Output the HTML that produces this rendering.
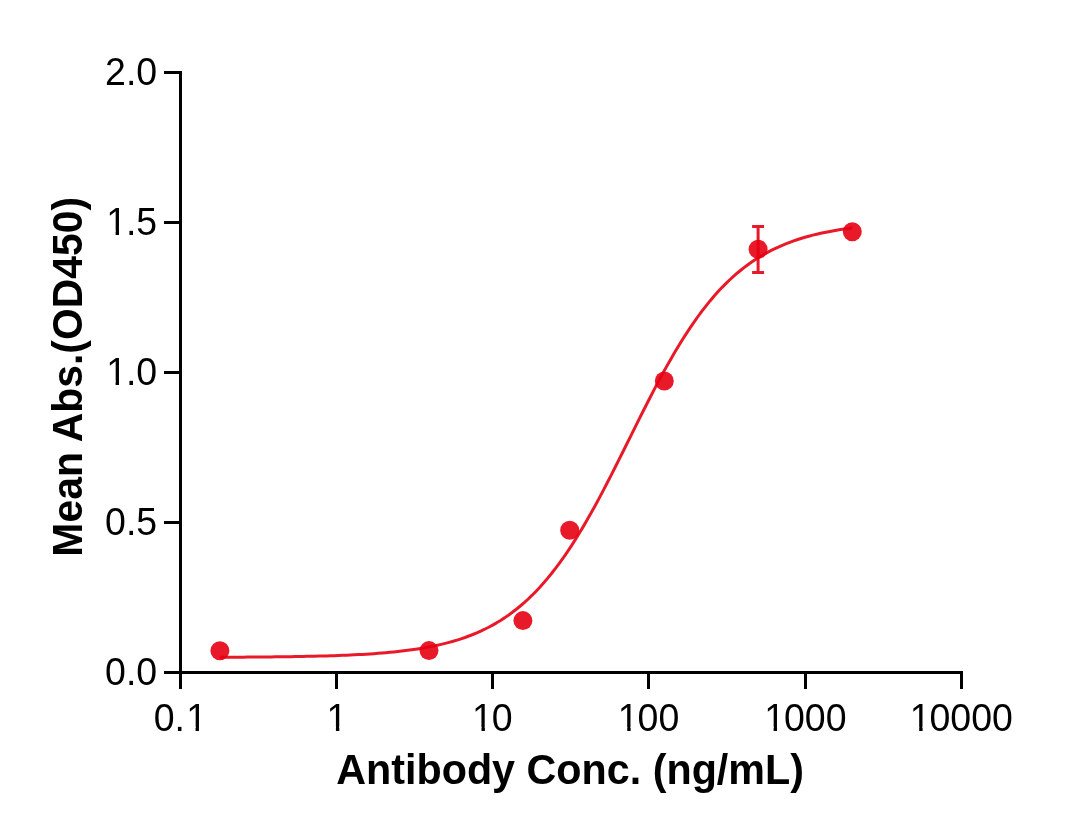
<!DOCTYPE html>
<html lang="en">
<head>
<meta charset="utf-8">
<title>Antibody binding curve</title>
<style>
html,body{margin:0;padding:0;background:#ffffff;}
body{width:1082px;height:837px;overflow:hidden;}
svg{display:block;}
.tick{font-family:"Liberation Sans",Arial,sans-serif;font-size:37.5px;fill:#000;}
.title{font-family:"Liberation Sans",Arial,sans-serif;font-weight:bold;font-size:41.3px;fill:#000;}
</style>
</head>
<body>
<svg width="1082" height="837" viewBox="0 0 1082 837">
<rect x="0" y="0" width="1082" height="837" fill="#ffffff"/>
<g fill="#000000" shape-rendering="crispEdges">
<rect x="179" y="71" width="3" height="618"/>
<rect x="164" y="671" width="799" height="3"/>
<rect x="164" y="71" width="16" height="3"/>
<rect x="164" y="221" width="16" height="3"/>
<rect x="164" y="371" width="16" height="3"/>
<rect x="164" y="521" width="16" height="3"/>
<rect x="335" y="672" width="3" height="17"/>
<rect x="491" y="672" width="3" height="17"/>
<rect x="647" y="672" width="3" height="17"/>
<rect x="804" y="672" width="3" height="17"/>
<rect x="960" y="672" width="3" height="17"/>
</g>
<text class="tick" transform="translate(105.07 84.90) scale(1 1.0405)">2.0</text>
<text class="tick" dx="1.15 -1.15 0" transform="translate(105.07 234.90) scale(1 1.0405)">1.5</text>
<text class="tick" dx="1.15 -1.15 0" transform="translate(105.07 384.90) scale(1 1.0405)">1.0</text>
<text class="tick" transform="translate(105.07 534.90) scale(1 1.0405)">0.5</text>
<text class="tick" transform="translate(105.07 684.90) scale(1 1.0405)">0.0</text>
<text class="tick" dx="0 0 1.15" transform="translate(153.73 730.60) scale(1 1.0405)">0.1</text>
<text class="tick" dx="1.15" transform="translate(325.37 730.60) scale(1 1.0405)">1</text>
<text class="tick" dx="1.15 -1.15" transform="translate(470.94 730.60) scale(1 1.0405)">10</text>
<text class="tick" dx="1.15 -1.15 0" transform="translate(616.72 730.60) scale(1 1.0405)">100</text>
<text class="tick" dx="1.15 -1.15 0 0" transform="translate(763.09 730.60) scale(1 1.0405)">1000</text>
<text class="tick" dx="1.15 -1.15 0 0 0" transform="translate(908.66 730.60) scale(1 1.0405)">10000</text>
<g fill="#ffffff"><rect x="107.68" y="231.29" width="7.92" height="4.51"/><rect x="119.01" y="231.29" width="7.58" height="4.51"/><rect x="107.68" y="381.29" width="7.92" height="4.51"/><rect x="119.01" y="381.29" width="7.58" height="4.51"/><rect x="187.62" y="726.99" width="7.92" height="4.51"/><rect x="198.95" y="726.99" width="7.58" height="4.51"/><rect x="327.99" y="726.99" width="7.92" height="4.51"/><rect x="339.32" y="726.99" width="7.58" height="4.51"/><rect x="473.56" y="726.99" width="7.92" height="4.51"/><rect x="484.89" y="726.99" width="7.58" height="4.51"/><rect x="619.33" y="726.99" width="7.92" height="4.51"/><rect x="630.66" y="726.99" width="7.58" height="4.51"/><rect x="765.70" y="726.99" width="7.92" height="4.51"/><rect x="777.03" y="726.99" width="7.58" height="4.51"/><rect x="911.28" y="726.99" width="7.92" height="4.51"/><rect x="922.60" y="726.99" width="7.58" height="4.51"/></g>
<text class="title" text-anchor="middle" transform="translate(570.1 784.2) scale(1 1.0405)">Antibody Conc. (ng/mL)</text>
<text class="title" style="font-size:40.9px" text-anchor="middle" transform="translate(81.85 376.8) rotate(-90) scale(1 1.0405)">Mean Abs.(OD450)</text>
<g stroke="#E60012" stroke-opacity="0.9" stroke-width="3" fill="none">
<path d="M758.1 226.6V272.5M752.1 226.6H764.1M752.1 272.5H764.1"/>
<path d="M219.88 657.27 L223.83 657.26 L227.79 657.24 L231.74 657.22 L235.69 657.20 L239.65 657.17 L243.60 657.15 L247.55 657.12 L251.50 657.09 L255.46 657.06 L259.41 657.03 L263.36 657.00 L267.31 656.96 L271.27 656.92 L275.22 656.87 L279.17 656.82 L283.13 656.77 L287.08 656.72 L291.03 656.66 L294.98 656.60 L298.94 656.53 L302.89 656.45 L306.84 656.37 L310.79 656.29 L314.75 656.20 L318.70 656.10 L322.65 655.99 L326.61 655.88 L330.56 655.76 L334.51 655.63 L338.46 655.48 L342.42 655.33 L346.37 655.17 L350.32 654.99 L354.28 654.80 L358.23 654.60 L362.18 654.38 L366.13 654.15 L370.09 653.90 L374.04 653.63 L377.99 653.33 L381.94 653.02 L385.90 652.69 L389.85 652.33 L393.80 651.94 L397.76 651.52 L401.71 651.08 L405.66 650.60 L409.61 650.08 L413.57 649.53 L417.52 648.94 L421.47 648.30 L425.42 647.62 L429.38 646.89 L433.33 646.11 L437.28 645.27 L441.24 644.37 L445.19 643.41 L449.14 642.38 L453.09 641.27 L457.05 640.09 L461.00 638.83 L464.95 637.48 L468.90 636.03 L472.86 634.49 L476.81 632.85 L480.76 631.09 L484.72 629.22 L488.67 627.22 L492.62 625.10 L496.57 622.84 L500.53 620.43 L504.48 617.88 L508.43 615.17 L512.38 612.29 L516.34 609.24 L520.29 606.01 L524.24 602.60 L528.20 599.00 L532.15 595.20 L536.10 591.19 L540.05 586.98 L544.01 582.55 L547.96 577.90 L551.91 573.04 L555.87 567.95 L559.82 562.63 L563.77 557.10 L567.72 551.34 L571.68 545.36 L575.63 539.16 L579.58 532.75 L583.53 526.14 L587.49 519.34 L591.44 512.35 L595.39 505.18 L599.35 497.86 L603.30 490.39 L607.25 482.80 L611.20 475.09 L615.16 467.28 L619.11 459.41 L623.06 451.48 L627.01 443.52 L630.97 435.55 L634.92 427.58 L638.87 419.65 L642.83 411.77 L646.78 403.96 L650.73 396.25 L654.68 388.64 L658.64 381.16 L662.59 373.83 L666.54 366.65 L670.49 359.65 L674.45 352.83 L678.40 346.21 L682.35 339.79 L686.31 333.57 L690.26 327.58 L694.21 321.80 L698.16 316.25 L702.12 310.92 L706.07 305.82 L710.02 300.93 L713.97 296.27 L717.93 291.83 L721.88 287.60 L725.83 283.58 L729.79 279.76 L733.74 276.15 L737.69 272.72 L741.64 269.48 L745.60 266.42 L749.55 263.53 L753.50 260.81 L757.46 258.24 L761.41 255.83 L765.36 253.56 L769.31 251.42 L773.27 249.42 L777.22 247.54 L781.17 245.77 L785.12 244.12 L789.08 242.57 L793.03 241.12 L796.98 239.77 L800.94 238.50 L804.89 237.31 L808.84 236.20 L812.79 235.16 L816.75 234.20 L820.70 233.29 L824.65 232.45 L828.60 231.66 L832.56 230.93 L836.51 230.24 L840.46 229.60 L844.42 229.01 L848.37 228.45 L852.32 227.94" stroke-linejoin="round" stroke-linecap="butt"/>
</g>
<g fill="#E60012" fill-opacity="0.9">
<circle cx="219.9" cy="650.7" r="9.5"/>
<circle cx="429.0" cy="650.6" r="9.5"/>
<circle cx="522.9" cy="620.6" r="9.5"/>
<circle cx="569.7" cy="530.3" r="9.5"/>
<circle cx="664.3" cy="381.0" r="9.5"/>
<circle cx="758.1" cy="249.2" r="9.5"/>
<circle cx="852.3" cy="231.8" r="9.5"/>
</g>
</svg>
</body>
</html>
